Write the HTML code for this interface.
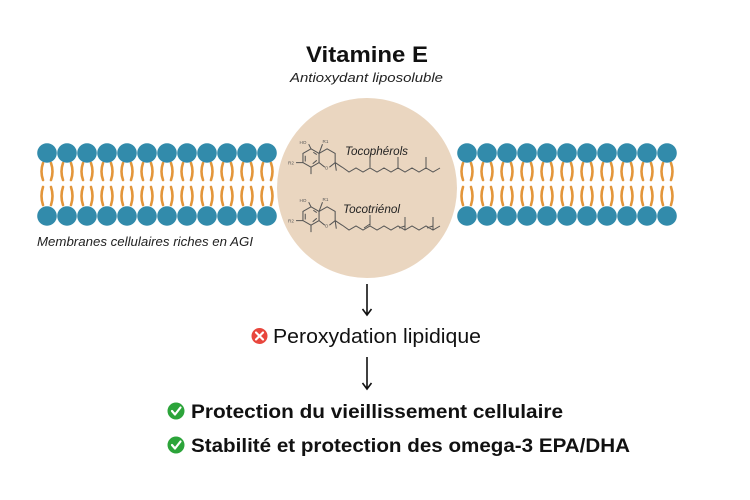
<!DOCTYPE html>
<html><head><meta charset="utf-8"><style>
html,body{margin:0;padding:0;background:#fff;}
svg{display:block;}
text{font-family:"Liberation Sans",sans-serif;}
</style></head><body>
<svg width="750" height="500" viewBox="0 0 750 500" xmlns="http://www.w3.org/2000/svg">
<defs>
<g id="tails" fill="none" stroke="#e3963b" stroke-width="2.6" stroke-linecap="round">
<path d="M-4,163 Q-7,171.5 -4,180 M4,163 Q7,171.5 4,180 M-4,187 Q-7,196 -4,205 M4,187 Q7,196 4,205"/>
</g>
<g id="unit">
<use href="#tails"/>
<circle cx="0" cy="153" r="9.8" fill="#328bab"/>
<circle cx="0" cy="216" r="9.8" fill="#328bab"/>
</g>
<g id="ring" fill="none" stroke="#555" stroke-width="0.9">
<path d="M0,-8 L7,-4 L7,4 L0,8 L-7,4 L-7,-4 Z M2,-5 L5,-3 M5,2 L1.5,5 M-5,3 L-5,-2"/>
<path d="M7,-4 L14,-8 L21,-4 L21,4 L16,8 M12,8 L7,4"/>
<path d="M0,-8 L-2,-12 M7,-4 L10,-12 M-7,4 L-13,4 M0,8 L0,14 M21,4 L22,11 M21,4 L27,8"/>
<text x="-10" y="-12" font-size="4" fill="#555" stroke="none">HO</text>
<text x="10" y="-13" font-size="4" fill="#555" stroke="none">R1</text>
<text x="-20" y="5.5" font-size="4" fill="#555" stroke="none">R2</text>
<text x="12" y="10" font-size="4" fill="#555" stroke="none">O</text>
</g>
</defs>
<circle cx="367" cy="188" r="90" fill="#ead6c0"/>
<g>
<use href="#unit" x="47"/><use href="#unit" x="67"/><use href="#unit" x="87"/><use href="#unit" x="107"/><use href="#unit" x="127"/><use href="#unit" x="147"/><use href="#unit" x="167"/><use href="#unit" x="187"/><use href="#unit" x="207"/><use href="#unit" x="227"/><use href="#unit" x="247"/><use href="#unit" x="267"/>
<use href="#unit" x="467"/><use href="#unit" x="487"/><use href="#unit" x="507"/><use href="#unit" x="527"/><use href="#unit" x="547"/><use href="#unit" x="567"/><use href="#unit" x="587"/><use href="#unit" x="607"/><use href="#unit" x="627"/><use href="#unit" x="647"/><use href="#unit" x="667"/>
</g>
<g transform="translate(311,158) scale(1.15)"><use href="#ring"/></g>
<g transform="translate(311,216) scale(1.15)"><use href="#ring"/></g>
<g fill="none" stroke="#555" stroke-width="1">
<path d="M342,167 L349,172 L356,168 L363,172 L370,168 L377,172 L384,168 L391,172 L398,168 L405,172 L412,168 L419,172 L426,168 L433,172 L440,168 M370,168 L370,157 M398,168 L398,157 M426,168 L426,157"/>
<path d="M342,225 L349,230 L356,226 L363,230 L370,226 L377,230 L384,226 L391,230 L398,226 L405,230 L412,226 L419,230 L426,226 L433,230 L440,226 M370,226 L370,215 M405,230 L405,217 M433,230 L433,217 M364,228 L370,224 M399,228 L405,226 M427,228 L433,226"/>
</g>
<text x="345" y="155" font-size="11.5" font-style="italic" fill="#222" textLength="63" lengthAdjust="spacingAndGlyphs">Tocophérols</text>
<text x="343" y="213" font-size="11.5" font-style="italic" fill="#222" textLength="57" lengthAdjust="spacingAndGlyphs">Tocotriénol</text>
<text x="306" y="62" font-size="22" font-weight="bold" fill="#111" textLength="122" lengthAdjust="spacingAndGlyphs">Vitamine E</text>
<text x="290" y="82" font-size="13" font-style="italic" fill="#222" textLength="153" lengthAdjust="spacingAndGlyphs">Antioxydant liposoluble</text>
<text x="37" y="246" font-size="13" font-style="italic" fill="#222" textLength="216" lengthAdjust="spacingAndGlyphs">Membranes cellulaires riches en AGI</text>
<g stroke="#111" stroke-width="1.6" fill="none">
<path d="M367,284 L367,314 M362.5,309 L367,315 L371.5,309"/>
<path d="M367,357 L367,388 M362.5,383 L367,389 L371.5,383"/>
</g>
<circle cx="259.5" cy="336" r="8" fill="#e8463d"/>
<path d="M256,332.5 L263,339.5 M263,332.5 L256,339.5" stroke="#fff" stroke-width="2.2" stroke-linecap="round"/>
<text x="273" y="343" font-size="20" fill="#111" textLength="208" lengthAdjust="spacingAndGlyphs">Peroxydation lipidique</text>
<circle cx="176" cy="411" r="8.5" fill="#2ca43a"/>
<path d="M172,411 L175,414.5 L180.5,407.5" stroke="#fff" stroke-width="2.2" fill="none" stroke-linecap="round" stroke-linejoin="round"/>
<text x="191" y="418" font-size="19.5" font-weight="bold" fill="#111" textLength="372" lengthAdjust="spacingAndGlyphs">Protection du vieillissement cellulaire</text>
<circle cx="176" cy="445" r="8.5" fill="#2ca43a"/>
<path d="M172,445 L175,448.5 L180.5,441.5" stroke="#fff" stroke-width="2.2" fill="none" stroke-linecap="round" stroke-linejoin="round"/>
<text x="191" y="452" font-size="19.5" font-weight="bold" fill="#111" textLength="439" lengthAdjust="spacingAndGlyphs">Stabilité et protection des omega-3 EPA/DHA</text>
</svg>
</body></html>
